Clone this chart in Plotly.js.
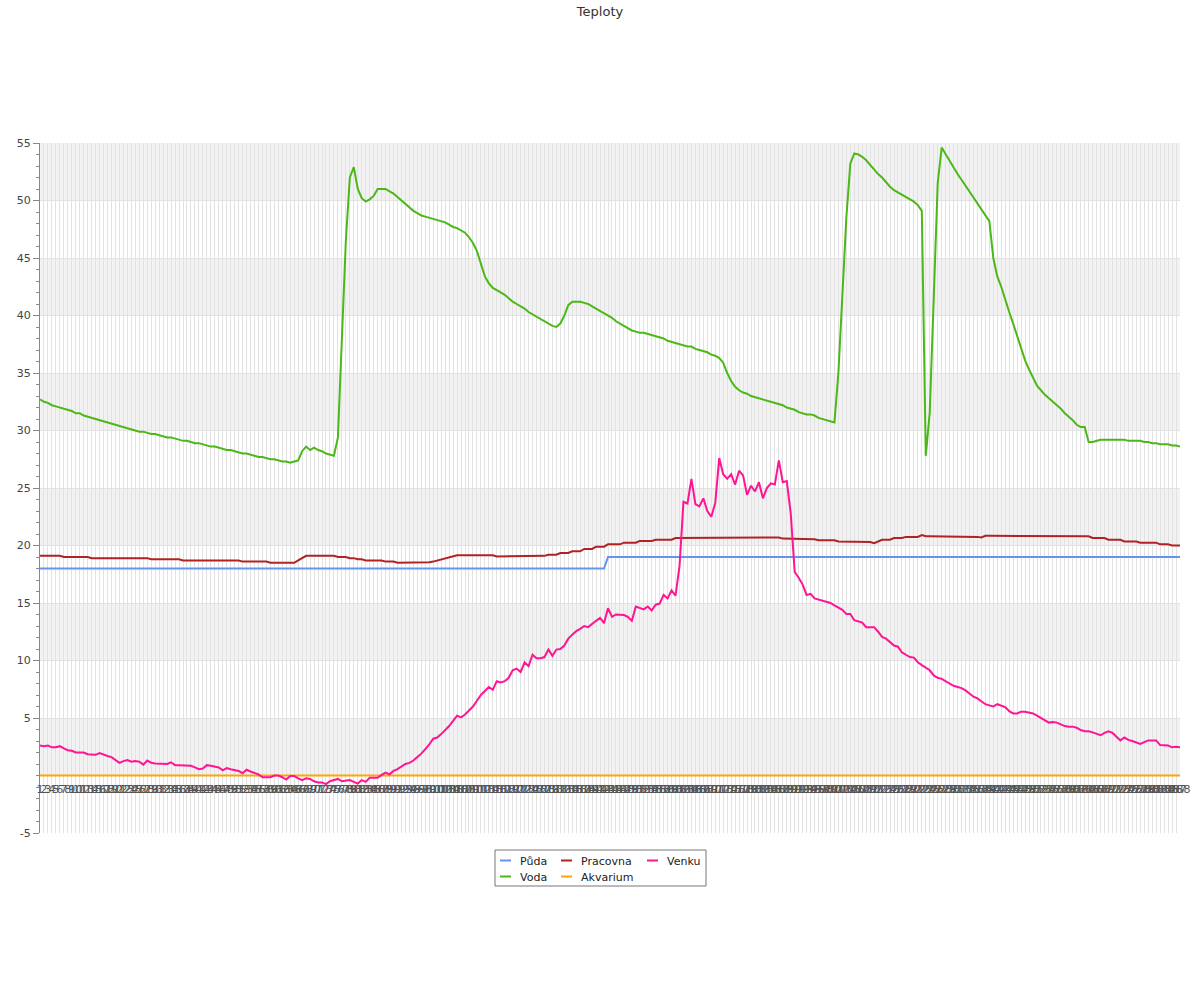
<!DOCTYPE html>
<html><head><meta charset="utf-8">
<script src="https://cdn.plot.ly/plotly-3.0.1.min.js"></script>
<style>html,body{margin:0;padding:0;background:#fff}#chart{width:1200px;height:1000px}</style>
</head><body><div id="chart"></div>
<script>
// Category labels (measurement numbers)
const labels = [];
for (let i = 1; i <= 288; i++) labels.push(String(i));

const puda = [
18,18,18,18,18,18,18,18,18,18, 18,18,18,18,18,18,18,18,18,18,
18,18,18,18,18,18,18,18,18,18, 18,18,18,18,18,18,18,18,18,18,
18,18,18,18,18,18,18,18,18,18, 18,18,18,18,18,18,18,18,18,18,
18,18,18,18,18,18,18,18,18,18, 18,18,18,18,18,18,18,18,18,18,
18,18,18,18,18,18,18,18,18,18, 18,18,18,18,18,18,18,18,18,18,
18,18,18,18,18,18,18,18,18,18, 18,18,18,18,18,18,18,18,18,18,
18,18,18,18,18,18,18,18,18,18, 18,18,18,18,18,18,18,18,18,18,
18,18,18,19,19,19,19,19,19,19, 19,19,19,19,19,19,19,19,19,19,
19,19,19,19,19,19,19,19,19,19, 19,19,19,19,19,19,19,19,19,19,
19,19,19,19,19,19,19,19,19,19, 19,19,19,19,19,19,19,19,19,19,
19,19,19,19,19,19,19,19,19,19, 19,19,19,19,19,19,19,19,19,19,
19,19,19,19,19,19,19,19,19,19, 19,19,19,19,19,19,19,19,19,19,
19,19,19,19,19,19,19,19,19,19, 19,19,19,19,19,19,19,19,19,19,
19,19,19,19,19,19,19,19,19,19, 19,19,19,19,19,19,19,19,19,19,
19,19,19,19,19,19,19,19
];

const voda = [
32.7,32.5,32.4,32.2,32.1,32.0,31.9,31.8,31.7,31.5,
31.5,31.3,31.2,31.1,31.0,30.9,30.8,30.7,30.6,30.5,
30.4,30.3,30.2,30.1,30.0,29.9,29.9,29.8,29.7,29.7,
29.6,29.5,29.4,29.4,29.3,29.2,29.1,29.1,29.0,28.9,
28.9,28.8,28.7,28.6,28.6,28.5,28.4,28.3,28.3,28.2,
28.1,28.0,28.0,27.9,27.8,27.7,27.7,27.6,27.5,27.5,
27.4,27.3,27.3,27.2,27.3,27.4,28.2,28.6,28.3,28.5,
28.3,28.2,28.0,27.9,27.8,29.4,38.0,46.5,52.0,52.9,
51.0,50.2,49.9,50.1,50.4,51.0,51.0,51.0,50.8,50.6,
50.3,50.0,49.7,49.4,49.1,48.9,48.7,48.6,48.5,48.4,
48.3,48.2,48.1,47.9,47.7,47.6,47.4,47.2,46.8,46.3,
45.6,44.5,43.4,42.8,42.4,42.2,42.0,41.8,41.5,41.2,
41.0,40.8,40.6,40.3,40.1,39.9,39.7,39.5,39.3,39.1,
39.0,39.3,40.0,40.9,41.2,41.2,41.2,41.1,41.0,40.8,
40.6,40.4,40.2,40.0,39.8,39.5,39.3,39.1,38.9,38.7,
38.6,38.5,38.5,38.4,38.3,38.2,38.1,38.0,37.8,37.7,
37.6,37.5,37.4,37.3,37.3,37.1,37.0,36.9,36.8,36.6,
36.5,36.3,35.9,35.0,34.3,33.8,33.5,33.3,33.2,33.0,
32.9,32.8,32.7,32.6,32.5,32.4,32.3,32.2,32.0,31.9,
31.8,31.6,31.5,31.4,31.4,31.3,31.1,31.0,30.9,30.8,
30.7,35.0,42.0,48.5,53.2,54.1,54.0,53.8,53.5,53.1,
52.7,52.3,52.0,51.6,51.2,50.9,50.7,50.5,50.3,50.1,
49.9,49.6,49.1,27.8,31.6,41.5,51.5,54.6,54.0,53.4,
52.9,52.3,51.8,51.3,50.8,50.2,49.8,49.3,48.8,48.2,
45.0,43.4,42.5,41.3,40.3,39.3,38.2,37.0,36.1,35.3,
34.6,33.9,33.5,33.1,32.8,32.5,32.2,31.9,31.5,31.2,
30.9,30.5,30.3,30.3,29.0,29.0,29.1,29.2,29.2,29.2,
29.2,29.2,29.2,29.2,29.1,29.1,29.1,29.1,29.0,29.0,
28.9,28.9,28.8,28.8,28.8,28.7,28.7,28.6
];

const pracovna = [
19.1,19.1,19.1,19.1,19.1,19.1,19.0,19.0,19.0,19.0,
19.0,19.0,19.0,18.9,18.9,18.9,18.9,18.9,18.9,18.9,
18.9,18.9,18.9,18.9,18.9,18.9,18.9,18.9,18.8,18.8,
18.8,18.8,18.8,18.8,18.8,18.8,18.7,18.7,18.7,18.7,
18.7,18.7,18.7,18.7,18.7,18.7,18.7,18.7,18.7,18.7,
18.7,18.6,18.6,18.6,18.6,18.6,18.6,18.6,18.5,18.5,
18.5,18.5,18.5,18.5,18.5,18.7,18.9,19.1,19.1,19.1,
19.1,19.1,19.1,19.1,19.1,19.0,19.0,19.0,18.9,18.9,
18.8,18.8,18.7,18.7,18.7,18.7,18.7,18.6,18.6,18.6,
18.5,18.5,18.5,18.5,18.5,18.5,18.55,18.55,18.55,18.6,
18.7,18.8,18.9,19.0,19.1,19.15,19.15,19.15,19.15,19.15,
19.15,19.15,19.15,19.15,19.15,19.05,19.05,19.05,19.05,19.05,
19.05,19.05,19.05,19.1,19.1,19.1,19.1,19.1,19.2,19.2,
19.2,19.35,19.35,19.35,19.5,19.5,19.5,19.7,19.7,19.7,
19.9,19.9,19.9,20.1,20.1,20.1,20.1,20.25,20.25,20.25,
20.25,20.4,20.4,20.4,20.4,20.5,20.5,20.5,20.5,20.5,
20.65,20.65,20.65,20.65,20.7,20.7,20.7,20.7,20.7,20.7,
20.7,20.7,20.7,20.7,20.7,20.7,20.7,20.7,20.7,20.7,
20.7,20.7,20.7,20.7,20.7,20.7,20.7,20.6,20.6,20.6,
20.6,20.55,20.55,20.55,20.55,20.55,20.45,20.45,20.45,20.45,
20.45,20.35,20.35,20.35,20.35,20.3,20.3,20.3,20.3,20.3,
20.2,20.35,20.5,20.5,20.5,20.65,20.65,20.65,20.75,20.75,
20.75,20.75,20.9,20.8,20.8,20.8,20.8,20.75,20.75,20.75,
20.75,20.75,20.75,20.75,20.75,20.75,20.75,20.7,20.85,20.85,
20.85,20.8,20.8,20.8,20.8,20.8,20.85,20.85,20.85,20.85,
20.85,20.85,20.85,20.85,20.85,20.85,20.85,20.85,20.85,20.85,
20.85,20.8,20.8,20.8,20.8,20.65,20.65,20.65,20.65,20.5,
20.5,20.5,20.5,20.35,20.35,20.35,20.35,20.25,20.25,20.25,
20.25,20.25,20.1,20.1,20.1,20.0,20.0,20.0
];

const akvarium = [
0,0,0,0,0,0,0,0,0,0,0,0,0,0,0,0,0,0,0,0,0,0,0,0,
0,0,0,0,0,0,0,0,0,0,0,0,0,0,0,0,0,0,0,0,0,0,0,0,
0,0,0,0,0,0,0,0,0,0,0,0,0,0,0,0,0,0,0,0,0,0,0,0,
0,0,0,0,0,0,0,0,0,0,0,0,0,0,0,0,0,0,0,0,0,0,0,0,
0,0,0,0,0,0,0,0,0,0,0,0,0,0,0,0,0,0,0,0,0,0,0,0,
0,0,0,0,0,0,0,0,0,0,0,0,0,0,0,0,0,0,0,0,0,0,0,0,
0,0,0,0,0,0,0,0,0,0,0,0,0,0,0,0,0,0,0,0,0,0,0,0,
0,0,0,0,0,0,0,0,0,0,0,0,0,0,0,0,0,0,0,0,0,0,0,0,
0,0,0,0,0,0,0,0,0,0,0,0,0,0,0,0,0,0,0,0,0,0,0,0,
0,0,0,0,0,0,0,0,0,0,0,0,0,0,0,0,0,0,0,0,0,0,0,0,
0,0,0,0,0,0,0,0,0,0,0,0,0,0,0,0,0,0,0,0,0,0,0,0,
0,0,0,0,0,0,0,0,0,0,0,0,0,0,0,0,0,0,0,0,0,0,0,0
];

const venku = [
2.6,2.55,2.6,2.45,2.45,2.55,2.35,2.2,2.15,2.0,
2.0,2.0,1.85,1.85,1.8,1.95,1.8,1.7,1.6,1.35,
1.1,1.25,1.35,1.2,1.25,1.2,0.95,1.3,1.1,1.05,
1.05,1.0,1.0,1.15,0.9,0.9,0.9,0.9,0.85,0.7,
0.55,0.6,0.9,0.85,0.8,0.7,0.45,0.65,0.55,0.5,
0.4,0.2,0.5,0.35,0.2,0.1,-0.15,-0.15,-0.15,0.0,
0.0,-0.15,-0.35,-0.05,-0.05,-0.25,-0.4,-0.25,-0.3,-0.5,
-0.6,-0.6,-0.75,-0.5,-0.4,-0.3,-0.5,-0.45,-0.4,-0.55,
-0.7,-0.4,-0.55,-0.2,-0.2,-0.2,0.05,0.25,0.1,0.4,
0.55,0.75,1.0,1.1,1.3,1.6,1.9,2.3,2.7,3.2,
3.3,3.6,3.95,4.3,4.75,5.2,5.05,5.3,5.65,6.0,
6.5,7.0,7.35,7.7,7.45,8.2,8.1,8.2,8.5,9.15,
9.3,9.0,9.85,9.5,10.5,10.2,10.2,10.3,10.95,10.4,
10.95,11.0,11.3,11.9,12.25,12.55,12.75,13.0,12.9,13.2,
13.45,13.7,13.25,14.55,13.8,14.0,13.95,13.95,13.8,13.45,
14.7,14.6,14.45,14.7,14.35,14.85,14.95,15.7,15.4,16.1,
15.65,18.2,23.8,23.65,25.8,23.6,23.4,24.1,23.0,22.5,
23.7,27.6,26.2,25.8,26.2,25.3,26.5,26.1,24.4,25.2,
24.7,25.5,24.1,25.0,25.4,25.3,27.4,25.5,25.6,22.8,
17.7,17.2,16.6,15.7,15.8,15.4,15.3,15.2,15.1,15.0,
14.8,14.6,14.4,14.05,14.05,13.5,13.4,13.3,12.9,12.9,
12.9,12.5,12.05,11.9,11.6,11.3,11.2,10.7,10.5,10.3,
10.25,9.85,9.6,9.4,9.15,8.7,8.5,8.4,8.2,7.95,
7.8,7.7,7.6,7.4,7.1,6.85,6.7,6.45,6.2,6.1,
6.0,6.2,6.05,5.95,5.6,5.4,5.4,5.55,5.55,5.45,
5.4,5.2,5.0,4.8,4.6,4.65,4.6,4.45,4.3,4.25,
4.25,4.15,3.95,3.85,3.85,3.75,3.65,3.5,3.7,3.85,
3.7,3.35,3.05,3.3,3.1,3.0,2.9,2.75,2.9,3.05,
3.05,3.05,2.65,2.6,2.6,2.45,2.5,2.45
];

const seriesNames = ['Půda', 'Voda', 'Pracovna', 'Akvarium', 'Venku'];
const seriesColors = ['#6495ed', '#4cb817', '#b22222', '#ffa500', '#ff1493'];
const yTickVals = [-5, 5, 10, 15, 20, 25, 30, 35, 40, 45, 50, 55];
const yRange = [-5, 55];
const shadedBands = [[0, 5], [10, 15], [20, 25], [30, 35], [40, 45], [50, 55]];

const FONT = 'DejaVu Sans, sans-serif';
const PL = 40, PR = 1180, PT = 143, PB = 833;
const px2x = p => (p - PL) / (PR - PL);
const py2y = p => (PB - p) / (PB - PT);

const allSeries = [puda, voda, pracovna, akvarium, venku];
const legendIds = ['legend', 'legend2', 'legend3', 'legend4', 'legend5'];
// text start x and row centre y of each legend entry (pixels)
const legendPos = [[520, 860], [520, 876], [581, 860], [581, 876], [667, 860]];

const traces = allSeries.map((s, k) => ({
  type: 'scatter', mode: 'lines', name: seriesNames[k],
  x: labels, y: s,
  line: {color: seriesColors[k], width: 2},
  legend: legendIds[k], hoverinfo: 'x+y+name'
}));

const layout = {
  width: 1200, height: 1000,
  paper_bgcolor: '#fff', plot_bgcolor: '#fff',
  margin: {l: PL, r: 1200 - PR, t: PT, b: 1000 - PB, pad: 0},
  font: {family: FONT, size: 11, color: '#444'},
  title: {text: 'Teploty', font: {family: FONT, size: 13, color: '#333'},
          x: 0.5, xref: 'container', xanchor: 'center', y: 1 - 11 / 1000, yref: 'container', yanchor: 'middle'},
  xaxis: {
    type: 'category', range: [0, labels.length - 1],
    anchor: 'free', position: (0 - yRange[0]) / (yRange[1] - yRange[0]),
    tickmode: 'linear', tick0: 0, dtick: 1, tickangle: 0,
    ticks: 'outside', ticklen: 3, tickcolor: 'rgba(0,0,0,0)', showline: false, zeroline: false,
    showgrid: true, gridcolor: '#e2e2e2', gridwidth: 1,
    tickfont: {family: FONT, size: 11, color: '#555'}
  },
  yaxis: {
    range: yRange, tickmode: 'array', tickvals: yTickVals, ticktext: yTickVals.map(String),
    ticks: 'outside', ticklen: 6, tickcolor: '#888', tickwidth: 1,
    showline: true, linecolor: '#888', linewidth: 1,
    showgrid: true, gridcolor: '#e2e2e2', gridwidth: 1,
    zeroline: true, zerolinecolor: '#888', zerolinewidth: 1,
    minor: {tickmode: 'linear', tick0: 0, dtick: 1, ticks: 'outside', ticklen: 3, tickcolor: '#888', showgrid: false},
    tickfont: {family: FONT, size: 11, color: '#444'}
  },
  shapes: shadedBands.map(b => ({
    type: 'rect', xref: 'paper', x0: 0, x1: 1, yref: 'y', y0: b[0], y1: b[1],
    fillcolor: '#f2f2f2', line: {width: 0}, layer: 'below'
  })).concat([{
    type: 'rect', xref: 'paper', yref: 'paper',
    x0: px2x(495), x1: px2x(706), y0: py2y(886), y1: py2y(850),
    line: {color: '#777', width: 1}, fillcolor: 'rgba(0,0,0,0)', layer: 'above'
  }]),
  showlegend: true
};

legendIds.forEach((id, k) => {
  layout[id] = {
    x: px2x(legendPos[k][0] - 40), y: py2y(legendPos[k][1] - 14),
    xanchor: 'left', yanchor: 'top', orientation: 'v',
    bgcolor: 'rgba(0,0,0,0)', borderwidth: 0,
    font: {family: FONT, size: 11, color: '#222'}
  };
});

Plotly.newPlot('chart', traces, layout, {displayModeBar: false, responsive: false}).then(gd => {
  // shorter legend swatches, as in the original chart
  gd.querySelectorAll('.legendlines path').forEach(p => p.setAttribute('d', 'M20,0h11'));
});
</script>
</body></html>
